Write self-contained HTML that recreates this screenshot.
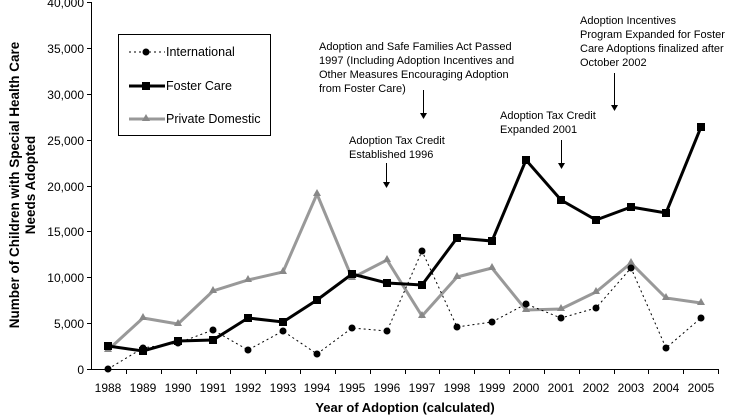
<!DOCTYPE html>
<html><head><meta charset="utf-8"><style>
html,body{margin:0;padding:0;background:#fff;}
svg{display:block;font-family:"Liberation Sans",Arial,sans-serif;}
</style></head><body>
<svg width="734" height="419" viewBox="0 0 734 419" xmlns="http://www.w3.org/2000/svg">
<g stroke="#000" stroke-width="1" fill="none">
<line x1="91.5" y1="2" x2="91.5" y2="369"/>
<line x1="91" y1="369.5" x2="718" y2="369.5"/>
<path d="M87 2.5h4M87 48.5h4M87 94.5h4M87 140.5h4M87 186.5h4M87 231.5h4M87 277.5h4M87 323.5h4M87 369.5h4"/>
<path d="M126.5 369v5M161.5 369v5M196.5 369v5M230.5 369v5M265.5 369v5M300.5 369v5M335.5 369v5M370.5 369v5M405.5 369v5M439.5 369v5M474.5 369v5M509.5 369v5M544.5 369v5M579.5 369v5M614.5 369v5M648.5 369v5M683.5 369v5M718.5 369v5"/>
</g>
<g font-size="12" text-anchor="end" fill="#000">
<text x="84" y="7">40,000</text><text x="84" y="53">35,000</text><text x="84" y="99">30,000</text><text x="84" y="145">25,000</text><text x="84" y="191">20,000</text><text x="84" y="236">15,000</text><text x="84" y="282">10,000</text><text x="84" y="328">5,000</text><text x="84" y="374">0</text>
</g>
<g font-size="12" text-anchor="middle" fill="#000">
<text x="108" y="392">1988</text><text x="143" y="392">1989</text><text x="178" y="392">1990</text><text x="213" y="392">1991</text><text x="248" y="392">1992</text><text x="283" y="392">1993</text><text x="317" y="392">1994</text><text x="352" y="392">1995</text><text x="387" y="392">1996</text><text x="422" y="392">1997</text><text x="457" y="392">1998</text><text x="492" y="392">1999</text><text x="526" y="392">2000</text><text x="561" y="392">2001</text><text x="596" y="392">2002</text><text x="631" y="392">2003</text><text x="666" y="392">2004</text><text x="701" y="392">2005</text>
</g>
<text x="405" y="412" font-size="13" font-weight="bold" text-anchor="middle">Year of Adoption (calculated)</text>
<g transform="translate(19,185) rotate(-90)" font-size="13.5" font-weight="bold" text-anchor="middle">
<text x="0" y="0">Number of Children with Special Health Care</text>
<text x="0" y="16">Needs Adopted</text>
</g>
<polyline fill="none" stroke="#999" stroke-width="3" points="108,350 143,318 178,324 213,291 248,280 283,272 317,194 352,278 387,260 422,316 457,277 492,268 526,310 561,309 596,292 631,263 666,298 701,303"/>
<g fill="#888">
<path d="M108,345 l4,7 h-8z M143,313 l4,7 h-8z M178,319 l4,7 h-8z M213,286 l4,7 h-8z M248,275 l4,7 h-8z M283,267 l4,7 h-8z M317,189 l4,7 h-8z M352,273 l4,7 h-8z M387,255 l4,7 h-8z M422,311 l4,7 h-8z M457,272 l4,7 h-8z M492,263 l4,7 h-8z M526,305 l4,7 h-8z M561,304 l4,7 h-8z M596,287 l4,7 h-8z M631,258 l4,7 h-8z M666,293 l4,7 h-8z M701,298 l4,7 h-8z"/>
</g>
<polyline fill="none" stroke="#000" stroke-width="3" points="108,346 143,351 178,341 213,340 248,318 283,322 317,300 352,274 387,283 422,285 457,238 492,241 526,160 561,200 596,220 631,207 666,213 701,127"/>
<g fill="#000">
<rect x="104" y="342" width="8" height="8"/><rect x="139" y="347" width="8" height="8"/><rect x="174" y="337" width="8" height="8"/><rect x="209" y="336" width="8" height="8"/><rect x="244" y="314" width="8" height="8"/><rect x="279" y="318" width="8" height="8"/><rect x="313" y="296" width="8" height="8"/><rect x="348" y="270" width="8" height="8"/><rect x="383" y="279" width="8" height="8"/><rect x="418" y="281" width="8" height="8"/><rect x="453" y="234" width="8" height="8"/><rect x="488" y="237" width="8" height="8"/><rect x="522" y="156" width="8" height="8"/><rect x="557" y="196" width="8" height="8"/><rect x="592" y="216" width="8" height="8"/><rect x="627" y="203" width="8" height="8"/><rect x="662" y="209" width="8" height="8"/><rect x="697" y="123" width="8" height="8"/>
</g>
<polyline fill="none" stroke="#000" stroke-width="1" stroke-dasharray="2,3" points="108,369 143,348 178,343 213,330 248,350 283,331 317,354 352,328 387,331 422,251 457,327 492,322 526,304 561,318 596,308 631,268 666,348 701,318"/>
<g fill="#000">
<circle cx="108" cy="369" r="3.5"/><circle cx="143" cy="348" r="3.5"/><circle cx="178" cy="343" r="3.5"/><circle cx="213" cy="330" r="3.5"/><circle cx="248" cy="350" r="3.5"/><circle cx="283" cy="331" r="3.5"/><circle cx="317" cy="354" r="3.5"/><circle cx="352" cy="328" r="3.5"/><circle cx="387" cy="331" r="3.5"/><circle cx="422" cy="251" r="3.5"/><circle cx="457" cy="327" r="3.5"/><circle cx="492" cy="322" r="3.5"/><circle cx="526" cy="304" r="3.5"/><circle cx="561" cy="318" r="3.5"/><circle cx="596" cy="308" r="3.5"/><circle cx="631" cy="268" r="3.5"/><circle cx="666" cy="348" r="3.5"/><circle cx="701" cy="318" r="3.5"/>
</g>
<rect x="118.5" y="34.5" width="152" height="101" fill="#fff" stroke="#000"/>
<line x1="129" y1="52" x2="165" y2="52" stroke="#000" stroke-dasharray="2,3"/>
<circle cx="146" cy="52" r="3.5"/>
<text x="166" y="56" font-size="12.5">International</text>
<line x1="129" y1="86" x2="165" y2="86" stroke="#000" stroke-width="3"/>
<rect x="142" y="82" width="8" height="8"/>
<text x="166" y="90" font-size="12.5">Foster Care</text>
<line x1="129" y1="119" x2="165" y2="119" stroke="#999" stroke-width="3"/>
<path d="M146,114 l4,7 h-8z" fill="#888"/>
<text x="166" y="123" font-size="12.5">Private Domestic</text>
<g font-size="11" fill="#000">
<text x="319" y="50">Adoption and Safe Families Act Passed</text>
<text x="319" y="64">1997 (Including Adoption Incentives and</text>
<text x="319" y="78">Other Measures Encouraging Adoption</text>
<text x="319" y="92">from Foster Care)</text>
<text x="349" y="144">Adoption Tax Credit</text>
<text x="349" y="158">Established 1996</text>
<text x="500" y="119">Adoption Tax Credit</text>
<text x="500" y="133">Expanded 2001</text>
<text x="580" y="24">Adoption Incentives</text>
<text x="580" y="38">Program Expanded for Foster</text>
<text x="580" y="52">Care Adoptions finalized after</text>
<text x="580" y="66">October 2002</text>
</g>
<g stroke="#000" stroke-width="1">
<line x1="423.5" y1="90" x2="423.5" y2="114"/>
<line x1="386.5" y1="163" x2="386.5" y2="183"/>
<line x1="561.5" y1="140" x2="561.5" y2="164"/>
<line x1="614.5" y1="73" x2="614.5" y2="106"/>
</g>
<g fill="#000">
<path d="M420,113 h7 l-3.5,6z"/><path d="M383,182 h7 l-3.5,6z"/><path d="M558,163 h7 l-3.5,6z"/><path d="M611,105 h7 l-3.5,6z"/>
</g>
</svg>
</body></html>
